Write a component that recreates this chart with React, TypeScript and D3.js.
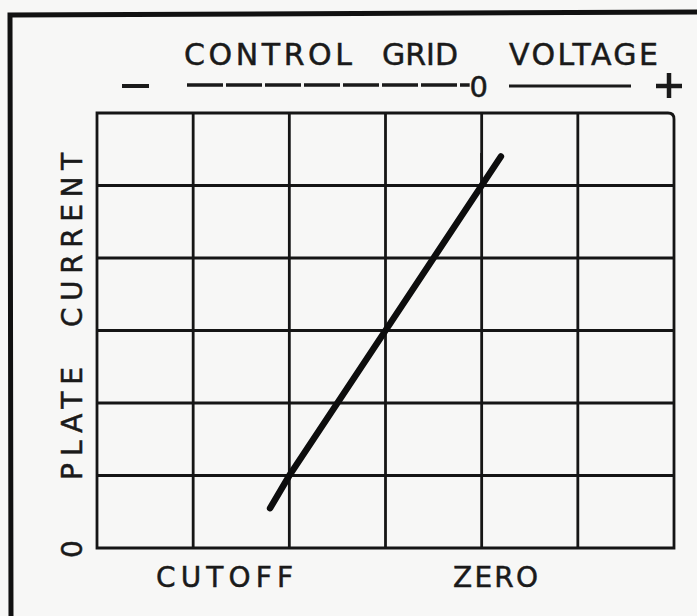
import React from "react";
import * as d3 from "d3";

// transfer characteristic: control grid voltage (grid units) vs plate current
const gridVoltage = [-2.2, -2, -1, 0, 0.2];
const plateCurrent = [0.55, 1, 3, 5, 5.4];

const xTicks = [-4, -3, -2, -1, 0, 1, 2];
const yTicks = [0, 1, 2, 3, 4, 5, 6];

const titleWords = ["CONTROL", "GRID", "VOLTAGE"];
const yLabelWords = ["PLATE", "CURRENT"];
const xLabelWords = ["CUTOFF", "ZERO"];

const W = 697;
const H = 616;
const font = "'DejaVu Sans', sans-serif";

const App = () => {
  const x = d3.scaleLinear().domain([-4, 2]).range([97, 674]);
  const y = d3.scaleLinear().domain([0, 6]).range([548, 113]);

  const line = d3
    .line<number>()
    .x((d, i) => x(gridVoltage[i]))
    .y((d) => y(d));

  const [x0, x1] = x.range();
  const [y0, y1] = y.range();
  const r = 6;
  const outline = `M${x0},${y0} L${x0},${y1} L${x1 - r},${y1} Q${x1},${y1} ${x1},${y1 + r} L${x1},${y0} Z`;

  return (
    <svg
      width={W}
      height={H}
      style={{ position: "absolute", left: 0, top: 0, background: "#f7f7f6" }}
      fontFamily={font}
    >
      <rect width={W} height={H} fill="#f7f7f6" />
      {/* outer frame */}
      <path d="M11,616 L10,15 L697,12" fill="none" stroke="#111" strokeWidth={5} />

      {/* grid */}
      <g stroke="#151515" strokeWidth={2.8} fill="none">
        {xTicks.slice(1, -1).map((t) => (
          <line key={"x" + t} x1={x(t)} x2={x(t)} y1={y0} y2={y1} />
        ))}
        {yTicks.slice(1, -1).map((t) => (
          <line key={"y" + t} x1={x0} x2={x1} y1={y(t)} y2={y(t)} />
        ))}
        <path d={outline} />
      </g>

      {/* small marker above the zero line */}
      <line x1={x(0) - 1} x2={x(0) - 1} y1={153} y2={y(5)} stroke="#222" strokeWidth={1.3} />

      {/* characteristic */}
      <path
        d={line(plateCurrent) || ""}
        fill="none"
        stroke="#0d0d0d"
        strokeWidth={6.5}
        strokeLinecap="round"
      />

      {/* title */}
      <g fontSize={30} fill="#1a1a1a" stroke="#1a1a1a" strokeWidth={0.5}>
        <text x={184} y={65} textLength={168} lengthAdjust="spacing">{titleWords[0]}</text>
        <text x={382} y={65} textLength={76} lengthAdjust="spacing">{titleWords[1]}</text>
        <text x={509} y={65} textLength={149} lengthAdjust="spacing">{titleWords[2]}</text>
      </g>

      {/* voltage direction row */}
      <line x1={122} x2={149} y1={86} y2={86} stroke="#1a1a1a" strokeWidth={4} />
      <line
        x1={187}
        x2={x(0) - 12}
        y1={85}
        y2={85}
        stroke="#1a1a1a"
        strokeWidth={3.5}
        strokeDasharray="36 3"
      />
      <text x={x(0) - 3} y={97} fontSize={29} textAnchor="middle" fill="#1a1a1a" stroke="#1a1a1a" strokeWidth={0.5}>0</text>
      <line x1={509} x2={631} y1={86} y2={86} stroke="#1a1a1a" strokeWidth={3} />
      <g stroke="#1a1a1a" strokeWidth={4.5}>
        <line x1={656} x2={682} y1={86} y2={86} />
        <line x1={669} x2={669} y1={73} y2={98} />
      </g>

      {/* y axis label */}
      <g fontSize={28} fill="#1a1a1a" stroke="#1a1a1a" strokeWidth={0.5}>
        <text transform="translate(82,480) rotate(-90)" textLength={113} lengthAdjust="spacing">
          {yLabelWords[0]}
        </text>
        <text transform="translate(82,327) rotate(-90)" textLength={174} lengthAdjust="spacing">
          {yLabelWords[1]}
        </text>
        <text transform={`translate(82,${y(0) + 1}) rotate(-90)`} textAnchor="middle">0</text>
      </g>

      {/* x axis labels */}
      <g fontSize={28} fill="#1a1a1a" stroke="#1a1a1a" strokeWidth={0.5}>
        <text x={156} y={587} textLength={137} lengthAdjust="spacing">{xLabelWords[0]}</text>
        <text x={453} y={587} textLength={85} lengthAdjust="spacing">{xLabelWords[1]}</text>
      </g>
    </svg>
  );
};

export default App;
